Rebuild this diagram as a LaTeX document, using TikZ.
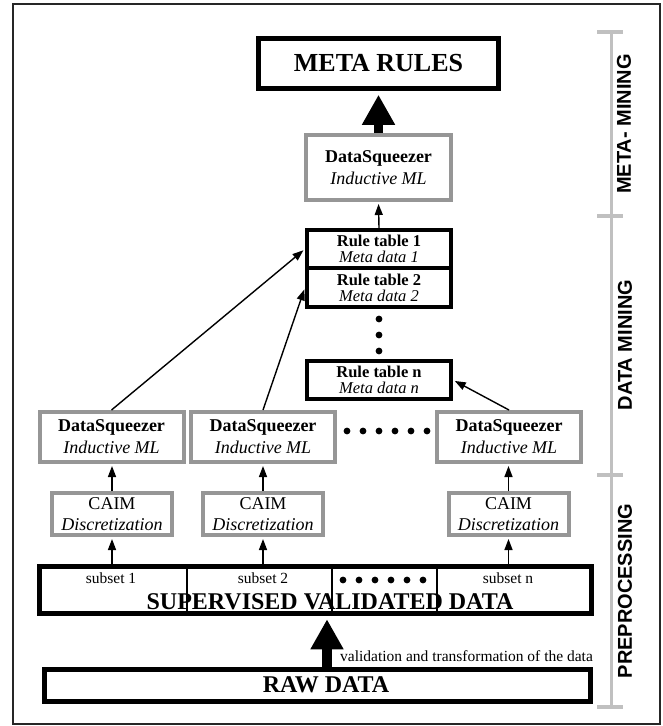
\documentclass[tikz,border=0pt]{standalone}
\usepackage{fontspec}
\setmainfont{Liberation Serif}
\newfontfamily\phasefont{Liberation Sans}
\usetikzlibrary{arrows.meta}

\definecolor{boxgray}{RGB}{150,150,150}
\definecolor{bargray}{RGB}{192,192,192}
\newcommand\pxfont[2]{\fontsize{#1}{#2}\selectfont}

\begin{document}
\begin{tikzpicture}[x=1pt, y=-1pt,
    every node/.style = {align=center, inner sep=0pt},
    blackbox/.style   = {draw, line width=4.5pt},
    tablen/.style     = {draw, line width=4pt, minimum width=144pt,
                         minimum height=38pt, font=\pxfont{16.5}{16}},
    algn/.style       = {draw=boxgray, line width=4pt, minimum width=144pt,
                         minimum height=50pt, font=\pxfont{18}{22}},
    caimn/.style      = {draw=boxgray, line width=4pt, minimum width=120pt,
                         minimum height=42pt, font=\pxfont{18}{21}},
    thinarr/.style    = {line width=1.4pt, shorten >=2pt,
                         -{Triangle[length=11pt,width=8pt]}},
    bigarr/.style     = {line width=9.5pt, -{Triangle[length=30pt,width=31pt]}},
    phasel/.style     = {rotate=90, font=\phasefont\bfseries\pxfont{20}{20}},
    smalltxt/.style   = {font=\pxfont{15.5}{15.5}}]

    \useasboundingbox (0,0) rectangle (662,726);
    \draw[line width=2pt, black!85] (13,4) rectangle (660,724);

    % Meta-mining
    \node[blackbox, minimum width=240pt, minimum height=50pt,
          font=\bfseries\pxfont{26}{26}] (meta) at (378.5,63.5) {META RULES};
    \node[algn, minimum width=145pt, minimum height=65pt] (dsmeta) at (378.5,167.5)
          {\textbf{DataSqueezer}\\\textit{Inductive ML}};

    % Rule tables
    \node[tablen] (rt1) at (379,249) {\textbf{Rule table 1}\\\textit{Meta data 1}};
    \node[tablen, minimum height=39pt] (rt2) at (379,287.5) {\textbf{Rule table 2}\\\textit{Meta data 2}};
    \node[tablen] (rtn) at (379,380) {\textbf{Rule table n}\\\textit{Meta data n}};
    \fill (379,319) circle (3.4) (379,335) circle (3.4) (379,351) circle (3.4);

    % Data mining
    \node[algn] (ds1) at (111.5,437) {\textbf{DataSqueezer}\\\textit{Inductive ML}};
    \node[algn] (ds2) at (263,437)   {\textbf{DataSqueezer}\\\textit{Inductive ML}};
    \node[algn] (ds3) at (509,437)   {\textbf{DataSqueezer}\\\textit{Inductive ML}};
    \fill (347,431) circle (3.4) (363,431) circle (3.4) (379,431) circle (3.4)
          (395,431) circle (3.4) (411,431) circle (3.4) (427,431) circle (3.4);

    % Preprocessing
    \node[caimn] (caim1) at (112,514)   {CAIM\\\textit{Discretization}};
    \node[caimn] (caim2) at (263,514)   {CAIM\\\textit{Discretization}};
    \node[caimn] (caim3) at (508.5,514) {CAIM\\\textit{Discretization}};

    \node[blackbox, minimum width=552pt, minimum height=47pt] (svd) at (315.5,590) {};
    \node[smalltxt, anchor=base] (sub1) at (111,583) {subset 1};
    \node[smalltxt, anchor=base] (sub2) at (263,583) {subset 2};
    \node[smalltxt, anchor=base] (subn) at (508,583) {subset n};
    \node[anchor=base, font=\bfseries\pxfont{24}{24}] (svdtxt) at (330,609)
          {SUPERVISED VALIDATED DATA};
    \fill (343,580) circle (3.4) (359,580) circle (3.4) (375,580) circle (3.4)
          (391,580) circle (3.4) (407,580) circle (3.4) (423,580) circle (3.4);
    \coordinate (cut1) at (187,0);
    \coordinate (cut2) at (332,0);
    \coordinate (cut3) at (437,0);
    \draw[line width=1.2pt] (svd.north -| cut1) -- (svd.south -| cut1);
    \draw[line width=1.2pt] (svd.north -| cut2) -- (svd.south -| cut2);
    \draw[line width=1.2pt] (svd.north -| cut3) -- (svd.south -| cut3);

    \node[blackbox, minimum width=546pt, minimum height=32pt] (raw) at (317.5,685.5) {};
    \node[anchor=base, font=\bfseries\pxfont{24}{24}] (rawtxt) at (326,692) {RAW DATA};
    \node[smalltxt, anchor=base west] (valtxt) at (340,661)
          {validation and transformation of the data};

    % Arrows
    \coordinate (upx) at (327,0);
    \draw[bigarr, shorten >=3.5pt] (raw.north -| upx) -- (svd.south -| upx);
    \draw[bigarr, shorten >=4pt] (dsmeta.north) -- (meta.south);
    \draw[thinarr] (rt1.north) -- (dsmeta.south);

    \draw[thinarr] (ds1.north) -- (rt1.west);
    \draw[thinarr] (ds2.north) -- (rt2.west);
    \draw[thinarr] (ds3.north) -- (rtn.east);

    \draw[thinarr] (caim1.north) -- (caim1.north |- ds1.south);
    \draw[thinarr] (caim2.north) -- (caim2.north |- ds2.south);
    \draw[thinarr] (caim3.north) -- (caim3.north |- ds3.south);
    \draw[thinarr] (caim1.south |- svd.north) -- (caim1.south);
    \draw[thinarr] (caim2.south |- svd.north) -- (caim2.south);
    \draw[thinarr] (caim3.south |- svd.north) -- (caim3.south);

    % Phase bar
    \draw[bargray, line width=3pt] (611,32) -- (611,707);
    \draw[bargray, line width=3.5pt] (597,32) -- (623,32);
    \draw[bargray, line width=3.5pt] (597,216) -- (623,216);
    \draw[bargray, line width=3.5pt] (597,475) -- (623,475);
    \draw[bargray, line width=3.5pt] (597,707) -- (623,707);
    \node[phasel] (lblmeta) at (624,124) {META- MINING};
    \node[phasel] (lbldm)   at (625,345) {DATA MINING};
    \node[phasel] (lblpre)  at (625,591) {PREPROCESSING};
\end{tikzpicture}
\end{document}
